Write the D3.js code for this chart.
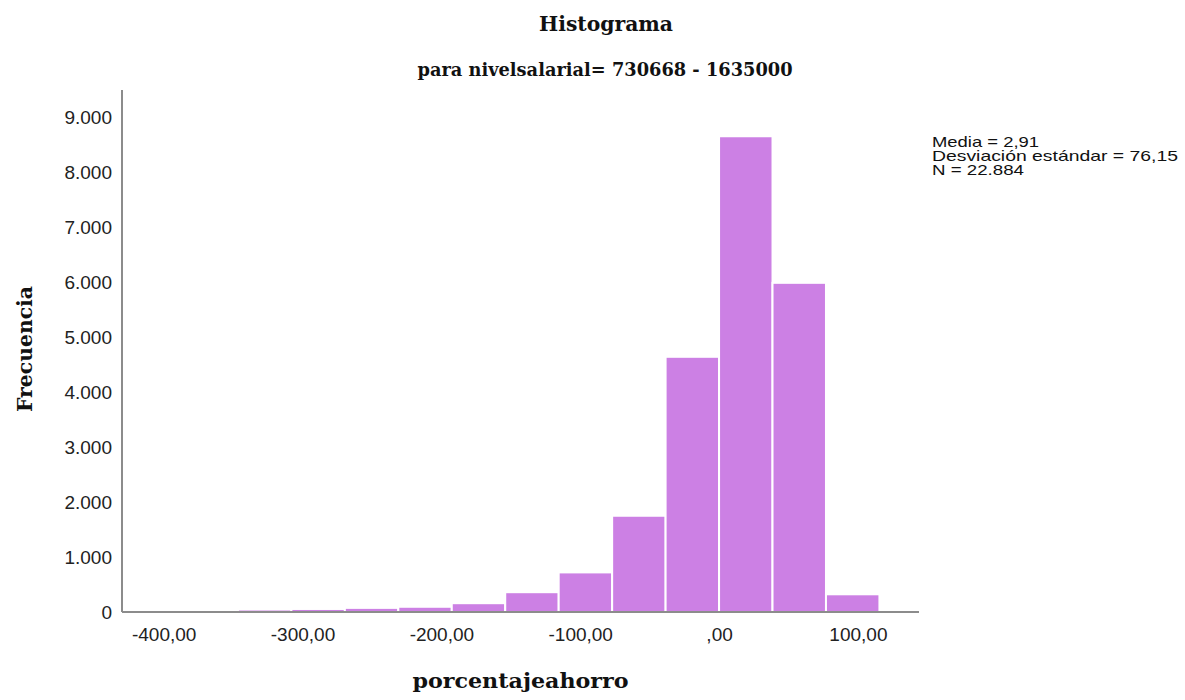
<!DOCTYPE html>
<html>
<head>
<meta charset="utf-8">
<script src="https://cdn.jsdelivr.net/npm/d3@7"></script>
<style>
  html, body { margin: 0; padding: 0; background: #ffffff; }
  svg { display: block; }
</style>
</head>
<body>
<svg id="chart" width="1185" height="700"></svg>
<script>
// ---- data ----
const binEdges = [-385, -346.5, -308, -269.5, -231, -192.5, -154, -115.5, -77, -38.5, 0, 38.5, 77, 115.5];
const binCounts = [25, 45, 55, 75, 95, 160, 360, 720, 1750, 4640, 8650, 5985, 322];
const xTicks = [-400, -300, -200, -100, 0, 100];
const xTickLabels = ["-400,00", "-300,00", "-200,00", "-100,00", ",00", "100,00"];
const yTicks = [0, 1000, 2000, 3000, 4000, 5000, 6000, 7000, 8000, 9000];
const yTickLabels = ["0", "1.000", "2.000", "3.000", "4.000", "5.000", "6.000", "7.000", "8.000", "9.000"];
const statsLines = ["Media = 2,91", "Desviación estándar = 76,15", "N = 22.884"];
const title = "Histograma";
const subtitle = "para nivelsalarial= 730668 - 1635000";
const xTitle = "porcentajeahorro";
const yTitle = "Frecuencia";

const bins = binCounts.map((c, i) => ({ x0: binEdges[i], x1: binEdges[i + 1], count: c }));

// ---- layout ----
const plot = { left: 122, right: 919, top: 90, bottom: 612 };
const svg = d3.select("#chart");

const x = d3.scaleLinear().domain([-430, 144]).range([plot.left, plot.right]);
const y = d3.scaleLinear().domain([0, 9500]).range([plot.bottom, 89.5]);

const serif = "'DejaVu Serif', 'Liberation Serif', serif";
const sans = "'Liberation Sans', Arial, sans-serif";

// bars
svg.append("g").selectAll("rect").data(bins).join("rect")
  .attr("x", d => x(d.x0))
  .attr("y", d => y(d.count))
  .attr("width", d => x(d.x1) - x(d.x0))
  .attr("height", d => y(0) - y(d.count))
  .attr("fill", "#cc80e4")
  .attr("stroke", "#ffffff")
  .attr("stroke-width", 2);

// axes
const xAxis = d3.axisBottom(x).tickValues(xTicks).tickFormat((d, i) => xTickLabels[i]).tickSize(0).tickPadding(16);
const gx = svg.append("g").attr("transform", `translate(0,${plot.bottom})`).call(xAxis);
gx.select(".domain").attr("stroke", "#8c8c8c").attr("stroke-width", 2).attr("d", `M${plot.left},0H${plot.right}`);
gx.selectAll("text").attr("font-family", sans).attr("font-size", 19).attr("fill", "#222");

const yAxis = d3.axisLeft(y).tickValues(yTicks).tickFormat((d, i) => yTickLabels[i]).tickSize(0).tickPadding(10);
const gy = svg.append("g").attr("transform", `translate(${plot.left},0)`).call(yAxis);
gy.select(".domain").attr("stroke", "#8c8c8c").attr("stroke-width", 2).attr("d", `M0,${plot.top}V${plot.bottom}`);
gy.selectAll("text").attr("font-family", sans).attr("font-size", 19).attr("fill", "#222");

// titles
svg.append("text").attr("x", 606).attr("y", 31).attr("text-anchor", "middle")
  .attr("font-family", serif).attr("font-weight", "bold").attr("font-size", 21)
  .attr("textLength", 134).attr("lengthAdjust", "spacingAndGlyphs")
  .attr("fill", "#111").text(title);
svg.append("text").attr("x", 605).attr("y", 76).attr("text-anchor", "middle")
  .attr("font-family", serif).attr("font-weight", "bold").attr("font-size", 18.5)
  .attr("textLength", 375).attr("lengthAdjust", "spacingAndGlyphs")
  .attr("fill", "#111").text(subtitle);
svg.append("text").attr("x", (plot.left + plot.right) / 2).attr("y", 688).attr("text-anchor", "middle")
  .attr("font-family", serif).attr("font-weight", "bold").attr("font-size", 20)
  .attr("textLength", 216).attr("lengthAdjust", "spacingAndGlyphs")
  .attr("fill", "#111").text(xTitle);
svg.append("text").attr("transform", `translate(32,349) rotate(-90)`)
  .attr("text-anchor", "middle")
  .attr("font-family", serif).attr("font-weight", "bold").attr("font-size", 20)
  .attr("textLength", 126).attr("lengthAdjust", "spacingAndGlyphs")
  .attr("fill", "#111").text(yTitle);

// stats
const statsWidths = [107, 246, 92];
svg.append("g").selectAll("text").data(statsLines).join("text")
  .attr("x", 932).attr("y", (d, i) => 147 + i * 14)
  .attr("font-family", sans).attr("font-size", 14.5).attr("fill", "#111")
  .attr("textLength", (d, i) => statsWidths[i]).attr("lengthAdjust", "spacingAndGlyphs")
  .text(d => d);
</script>
</body>
</html>
